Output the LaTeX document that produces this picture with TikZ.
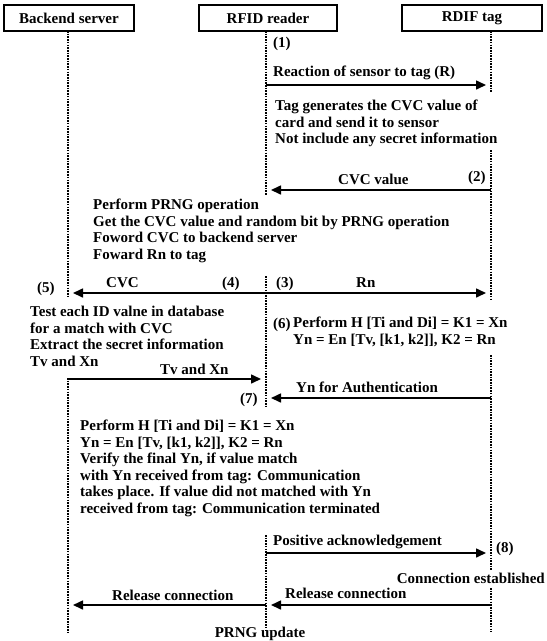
\documentclass[tikz,border=0pt]{standalone}
\usepackage{fontspec}
\setmainfont{Liberation Serif}
\usetikzlibrary{arrows.meta,positioning}

\begin{document}
\begin{tikzpicture}[x=1pt,y=-1pt,font=\bfseries\fontsize{15}{16.5}\selectfont,
   actor/.style={draw,line width=1.4pt,minimum height=26pt,inner sep=0pt},
   life/.style={line width=1.6pt,dash pattern=on 1.6pt off 1.1pt},
   msg/.style={line width=1.6pt,-{Triangle[length=10pt,width=9pt]},shorten >=5pt},
   lbl/.style={inner sep=0pt,anchor=base west},
   note/.style={inner sep=0pt,anchor=north west,align=left}]
  \useasboundingbox (0,0) rectangle (547,641);
  % participants
  \node[actor,minimum width=130pt] (server) at (69,18) {Backend server};
  \node[actor,minimum width=138pt] (reader) at (268,18) {RFID reader};
  \node[actor,minimum width=140pt] (tag) at (472,18) {RDIF tag};
  \coordinate (s) at (68,0);
  \coordinate (r) at (266,0);
  \coordinate (t) at (491,0);
  % lifelines, broken where the notes stand
  \foreach \l/\a/\b in {s/31/297, s/378/632, r/31/195, r/276/407, r/535/632,
                        t/31/92, t/150/300, t/355/570, t/588/632}
    \draw[life] (\l |- 0,\a) -- (\l |- 0,\b);
  % message heights
  \coordinate (m1) at (0,85);
  \coordinate (m2) at (0,190);
  \coordinate (m3) at (0,293);
  \coordinate (m4) at (0,379);
  \coordinate (m5) at (0,398);
  \coordinate (m6) at (0,553);
  \coordinate (m7) at (0,605);
  % (1)
  \node[lbl] (n1) at (273,47) {(1)};
  \node[lbl] (l1) at (273,76) {Reaction of sensor to tag (R)};
  \draw[msg] (r |- m1) -- (t |- m1);
  \node[note] (tagnote) at (275,100) {Tag generates the CVC value of\\card and send it to sensor\\Not include any secret information};
  % (2)
  \node[lbl] (l2) at (338,184) {CVC value};
  \node[lbl] (n2) at (468,181) {(2)};
  \draw[msg] (t |- m2) -- (r |- m2);
  \node[note] (prng) at (93,199) {Perform PRNG operation\\Get the CVC value and random bit by PRNG operation\\Foword CVC to backend server\\Foward Rn to tag};
  % (3) (4) (5)
  \node[lbl] (n3) at (276,287) {(3)};
  \node[lbl] (l3) at (356,287) {Rn};
  \node[lbl] (n4) at (222,287) {(4)};
  \node[lbl] (l4) at (106,287) {CVC};
  \node[lbl] (n5) at (37,292) {(5)};
  \draw[msg] (r |- m3) -- (t |- m3);
  \draw[msg] (r |- m3) -- (s |- m3);
  \node[note] (test) at (30,306) {Test each ID valne in database\\for a match with CVC\\Extract the secret information\\Tv and Xn};
  % (6)
  \node[lbl] (n6) at (273,328) {(6)};
  \node[note] (calc) at (293,317) {Perform H [Ti and Di] = K1 = Xn\\Yn = En [Tv, [k1, k2]], K2 = Rn};
  % (7)
  \node[lbl] (l5) at (160,374) {Tv and Xn};
  \draw[msg] (s |- m4) -- (r |- m4);
  \node[lbl] (l6) at (296,392) {Yn for Authentication};
  \node[lbl] (n7) at (240,403) {(7)};
  \draw[msg] (t |- m5) -- (r |- m5);
  \node[note] (verify) at (80,420) {Perform H [Ti and Di] = K1 = Xn\\Yn = En [Tv, [k1, k2]], K2 = Rn\\Verify the final Yn, if value match\\with Yn received from tag: Communication\\takes place. If value did not matched with Yn\\received from tag: Communication terminated};
  % (8)
  \node[lbl] (l7) at (273,545) {Positive acknowledgement};
  \node[lbl] (n8) at (496,552) {(8)};
  \draw[msg] (r |- m6) -- (t |- m6);
  \node[inner sep=0pt,anchor=base east] (est) at (545,583) {Connection established};
  \node[lbl] (l8) at (285,598) {Release connection};
  \draw[msg] (t |- m7) -- (r |- m7);
  \node[lbl] (l9) at (112,600) {Release connection};
  \draw[msg] (r |- m7) -- (s |- m7);
  \node[inner sep=0pt,anchor=base] (upd) at (260,637) {PRNG update};
\end{tikzpicture}
\end{document}
